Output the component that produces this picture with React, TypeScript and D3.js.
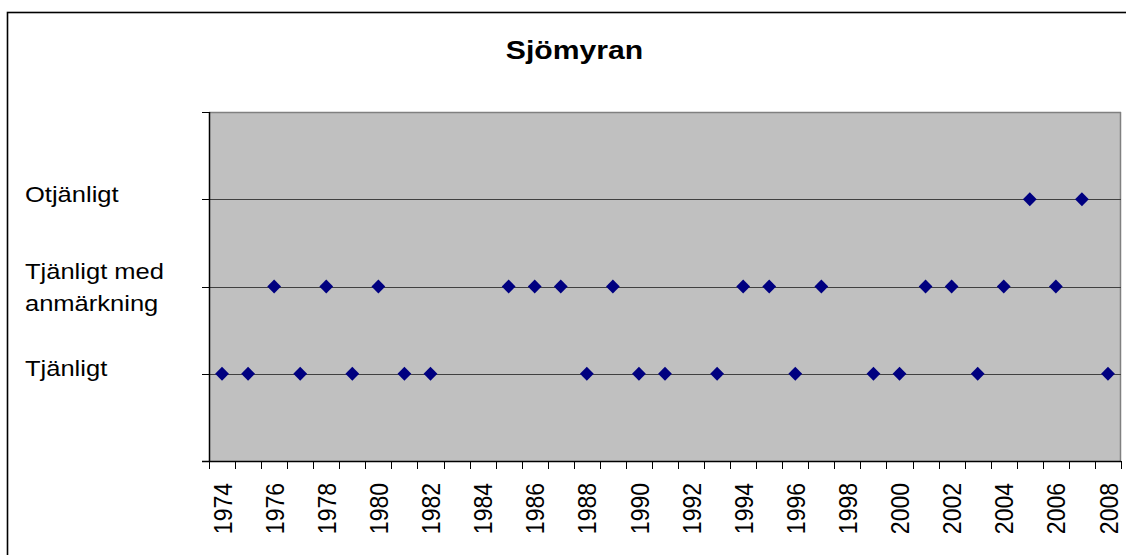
import React from "react";
import * as d3 from "d3";

const title = "Sjömyran";
const years: number[] = [
  1974, 1975, 1976, 1977, 1978, 1979, 1980, 1981, 1982, 1983, 1984, 1985,
  1986, 1987, 1988, 1989, 1990, 1991, 1992, 1993, 1994, 1995, 1996, 1997,
  1998, 1999, 2000, 2001, 2002, 2003, 2004, 2005, 2006, 2007, 2008,
];
// 1 = Tjänligt, 2 = Tjänligt med anmärkning, 3 = Otjänligt, null = no sample
const quality: (number | null)[] = [
  1, 1, 2, 1, 2, 1, 2, 1, 1, null, null, 2, 2, 2, 1, 2, 1, 1, null, 1, 2, 2,
  1, 2, null, 1, 1, 2, 2, 1, 2, 3, 2, 3, 1,
];
const levelValues: number[] = [0, 1, 2, 3, 4];
const levelLabels: string[][] = [[], ["Tjänligt"], ["Tjänligt med", "anmärkning"], ["Otjänligt"], []];
const gridLevels: number[] = [1, 2, 3];

const W = 1126;
const H = 555;
const plotL = 209;
const plotR = 1121;
const plotT = 112;
const plotB = 461;
const SX = 1.16; // horizontal stretch of the reference text

export default function App() {
  const x = d3.scaleBand<number>().domain(years).range([plotL, plotR]).padding(0);
  const y = d3.scaleLinear().domain([0, 4]).range([plotB, plotT]);
  const bw = x.bandwidth();
  const cx = (yr: number) => (x(yr) as number) + bw / 2;
  const diamond = d3.symbol().type(d3.symbolDiamond2 || d3.symbolDiamond).size(120)();
  const sq = d3.symbol().type(d3.symbolSquare).size(95)();
  const tickXs = years.map((yr) => x(yr) as number).concat([plotR]);
  const font = "'Liberation Sans', Arial, sans-serif";

  return (
    <svg
      width={W}
      height={H}
      style={{ position: "absolute", left: 0, top: 0, background: "#fff" }}
      fontFamily={font}
    >
      {/* chart frame */}
      <rect x={7.5} y={12.5} width={W + 20} height={H + 20} fill="#fff" stroke="#000" strokeWidth={1.6} />

      {/* title */}
      <text
        transform={`translate(574.5,58.5) scale(${SX},1)`}
        textAnchor="middle"
        fontSize={26}
        fontWeight="bold"
        fill="#000"
      >
        {title}
      </text>

      {/* plot area */}
      <rect x={plotL} y={plotT} width={plotR - plotL} height={plotB - plotT} fill="#C0C0C0" />
      <line x1={plotL} x2={plotR} y1={plotT + 0.5} y2={plotT + 0.5} stroke="#808080" strokeWidth={1.5} />
      <line x1={plotR - 0.5} x2={plotR - 0.5} y1={plotT} y2={plotB} stroke="#808080" strokeWidth={1.5} />

      {/* gridlines */}
      {gridLevels.map((v) => (
        <line
          key={"g" + v}
          x1={plotL}
          x2={plotR}
          y1={Math.round(y(v)) + 0.5}
          y2={Math.round(y(v)) + 0.5}
          stroke="#404040"
          strokeWidth={1.2}
        />
      ))}

      {/* y axis */}
      <line x1={plotL + 0.5} x2={plotL + 0.5} y1={plotT} y2={plotB} stroke="#000" strokeWidth={1.5} />
      {levelValues.map((v) => (
        <line
          key={"yt" + v}
          x1={plotL - 7}
          x2={plotL}
          y1={Math.round(y(v)) + 0.5}
          y2={Math.round(y(v)) + 0.5}
          stroke="#000"
          strokeWidth={1}
        />
      ))}
      {levelValues.map((v, i) =>
        levelLabels[i].map((line, j) => {
          const n = levelLabels[i].length;
          const base = n === 1 ? y(v) + 2.5 : y(v) - 8 + j * 32;
          return (
            <text
              key={"yl" + v + "-" + j}
              transform={`translate(25,${base}) scale(${SX},1)`}
              fontSize={22}
              fill="#000"
            >
              {line}
            </text>
          );
        })
      )}

      {/* x axis */}
      <line x1={plotL - 7} x2={plotR} y1={plotB + 0.5} y2={plotB + 0.5} stroke="#000" strokeWidth={1.5} />
      {tickXs.map((tx, i) => (
        <line
          key={"xt" + i}
          x1={Math.round(tx) + 0.5}
          x2={Math.round(tx) + 0.5}
          y1={plotB}
          y2={plotB + 8}
          stroke="#000"
          strokeWidth={1}
        />
      ))}
      {years
        .filter((_, i) => i % 2 === 0)
        .map((yr) => (
          <text
            key={"xl" + yr}
            transform={`translate(${cx(yr)},483) scale(${SX},1) rotate(-90)`}
            textAnchor="end"
            dominantBaseline="central"
            fontSize={23}
            fill="#000"
          >
            {yr}
          </text>
        ))}

      {/* markers */}
      {years.map((yr, i) => {
        const q = quality[i];
        if (q == null) return null;
        return (
          <path
            key={"m" + yr}
            d={sq as string}
            transform={`translate(${cx(yr)},${y(q)}) rotate(45)`}
            fill="#000080"
          />
        );
      })}
    </svg>
  );
}
